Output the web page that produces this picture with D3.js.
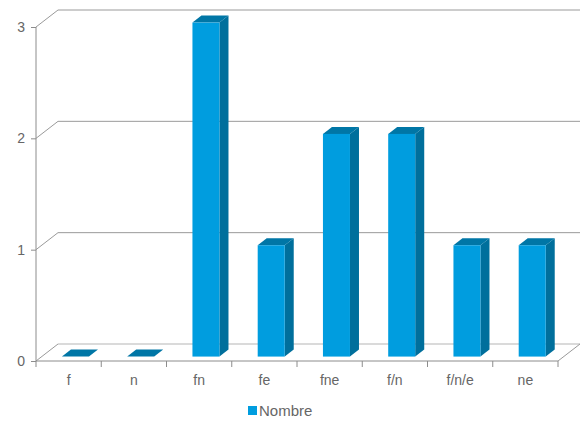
<!DOCTYPE html>
<html>
<head>
<meta charset="utf-8">
<script src="https://cdn.jsdelivr.net/npm/d3@7"></script>
<style>
  html, body { margin: 0; padding: 0; background: #fff; }
  svg { display: block; }
  text { font-family: "Liberation Sans", Arial, sans-serif; }
</style>
</head>
<body>
<svg id="chart" width="584" height="421"></svg>
<script>
// Data
const categories = ["f", "n", "fn", "fe", "fne", "f/n", "f/n/e", "ne"];
const values = [0, 0, 3, 1, 2, 2, 1, 1];
const yTicks = [0, 1, 2, 3];
const seriesName = "Nombre";

const W = 584, H = 421;
const svg = d3.select("#chart");

// Front plane of the 3D box and its depth offset
const x0 = 36, x1 = 558, yBase = 361, yTop = 27;
const DX = 22, DY = -17;

const x = d3.scaleBand().domain(categories).range([x0, x1]).padding(0);
const y = d3.scaleLinear().domain([0, 3]).range([yBase, yTop]);

const gridColor = "#9a9a9a";
const axisColor = "#8c8c8c";
const textColor = "#666666";

// Back wall gridlines + left wall diagonals
const grid = svg.append("g");
yTicks.forEach(t => {
  const yy = y(t);
  grid.append("line")
    .attr("x1", x0 + DX).attr("x2", x1 + DX)
    .attr("y1", yy + DY).attr("y2", yy + DY)
    .attr("stroke", t === 0 ? "#b5b5b5" : gridColor).attr("stroke-width", 1);
  grid.append("line")
    .attr("x1", x0).attr("y1", yy)
    .attr("x2", x0 + DX).attr("y2", yy + DY)
    .attr("stroke", gridColor).attr("stroke-width", 1);
});
// Floor right edge
grid.append("line")
  .attr("x1", x1).attr("y1", y(0))
  .attr("x2", x1 + DX).attr("y2", y(0) + DY)
  .attr("stroke", gridColor).attr("stroke-width", 1);

// Bars (3D boxes)
const bw = x.bandwidth();
const t0 = 0.26, t1 = 0.67;          // depth fraction occupied by bars
const faceW = bw * 0.414;
const inner = bw * 0.31;
const front = "#009ddf", side = "#006f9c", topC = "#0076a6";

const bars = svg.append("g");
categories.forEach((c, i) => {
  const v = values[i];
  const fx = x(c) + inner + DX * t0;
  const fyb = y(0) + DY * t0;
  const fyt = y(v) + DY * t0;
  const ddx = DX * (t1 - t0), ddy = DY * (t1 - t0);
  const g = bars.append("g");
  // side face
  g.append("path")
    .attr("d", `M${fx + faceW},${fyb} L${fx + faceW + ddx},${fyb + ddy} L${fx + faceW + ddx},${fyt + ddy} L${fx + faceW},${fyt} Z`)
    .attr("fill", side);
  // top face
  g.append("path")
    .attr("d", `M${fx},${fyt} L${fx + faceW},${fyt} L${fx + faceW + ddx},${fyt + ddy} L${fx + ddx},${fyt + ddy} Z`)
    .attr("fill", topC);
  // front face
  if (v > 0) {
    g.append("rect")
      .attr("x", fx).attr("y", fyt)
      .attr("width", faceW).attr("height", fyb - fyt)
      .attr("fill", front);
  }
});

// Axes
const yAxis = d3.axisLeft(y).tickValues(yTicks).tickSize(5).tickPadding(6).tickFormat(d3.format("d"));
const gy = svg.append("g").attr("transform", `translate(${x0},0)`).call(yAxis);
gy.select(".domain").attr("stroke", axisColor).attr("d", `M0,${yTop}V${yBase}`);
gy.selectAll(".tick line").attr("stroke", axisColor);
gy.selectAll(".tick text").attr("fill", textColor).style("font-size", "14px");

const xAxis = d3.axisBottom(x).tickSize(0).tickPadding(14);
const gx = svg.append("g").attr("transform", `translate(0,${yBase})`).call(xAxis);
gx.select(".domain").attr("stroke", axisColor).attr("d", `M${x0},0H${x1}`);
gx.selectAll(".tick text").attr("fill", textColor).style("font-size", "14px");
// band boundary tick marks
const bounds = categories.map(c => x(c)).concat([x1]);
gx.selectAll(".bound").data(bounds).join("line")
  .attr("x1", d => d).attr("x2", d => d)
  .attr("y1", 0).attr("y2", 6)
  .attr("stroke", axisColor);

// Legend
const lg = svg.append("g").attr("transform", "translate(248,406)");
lg.append("rect").attr("width", 9).attr("height", 9).attr("fill", front);
lg.append("text").attr("x", 11).attr("y", 10)
  .attr("fill", textColor).style("font-size", "15px").text(seriesName);
</script>
</body>
</html>
